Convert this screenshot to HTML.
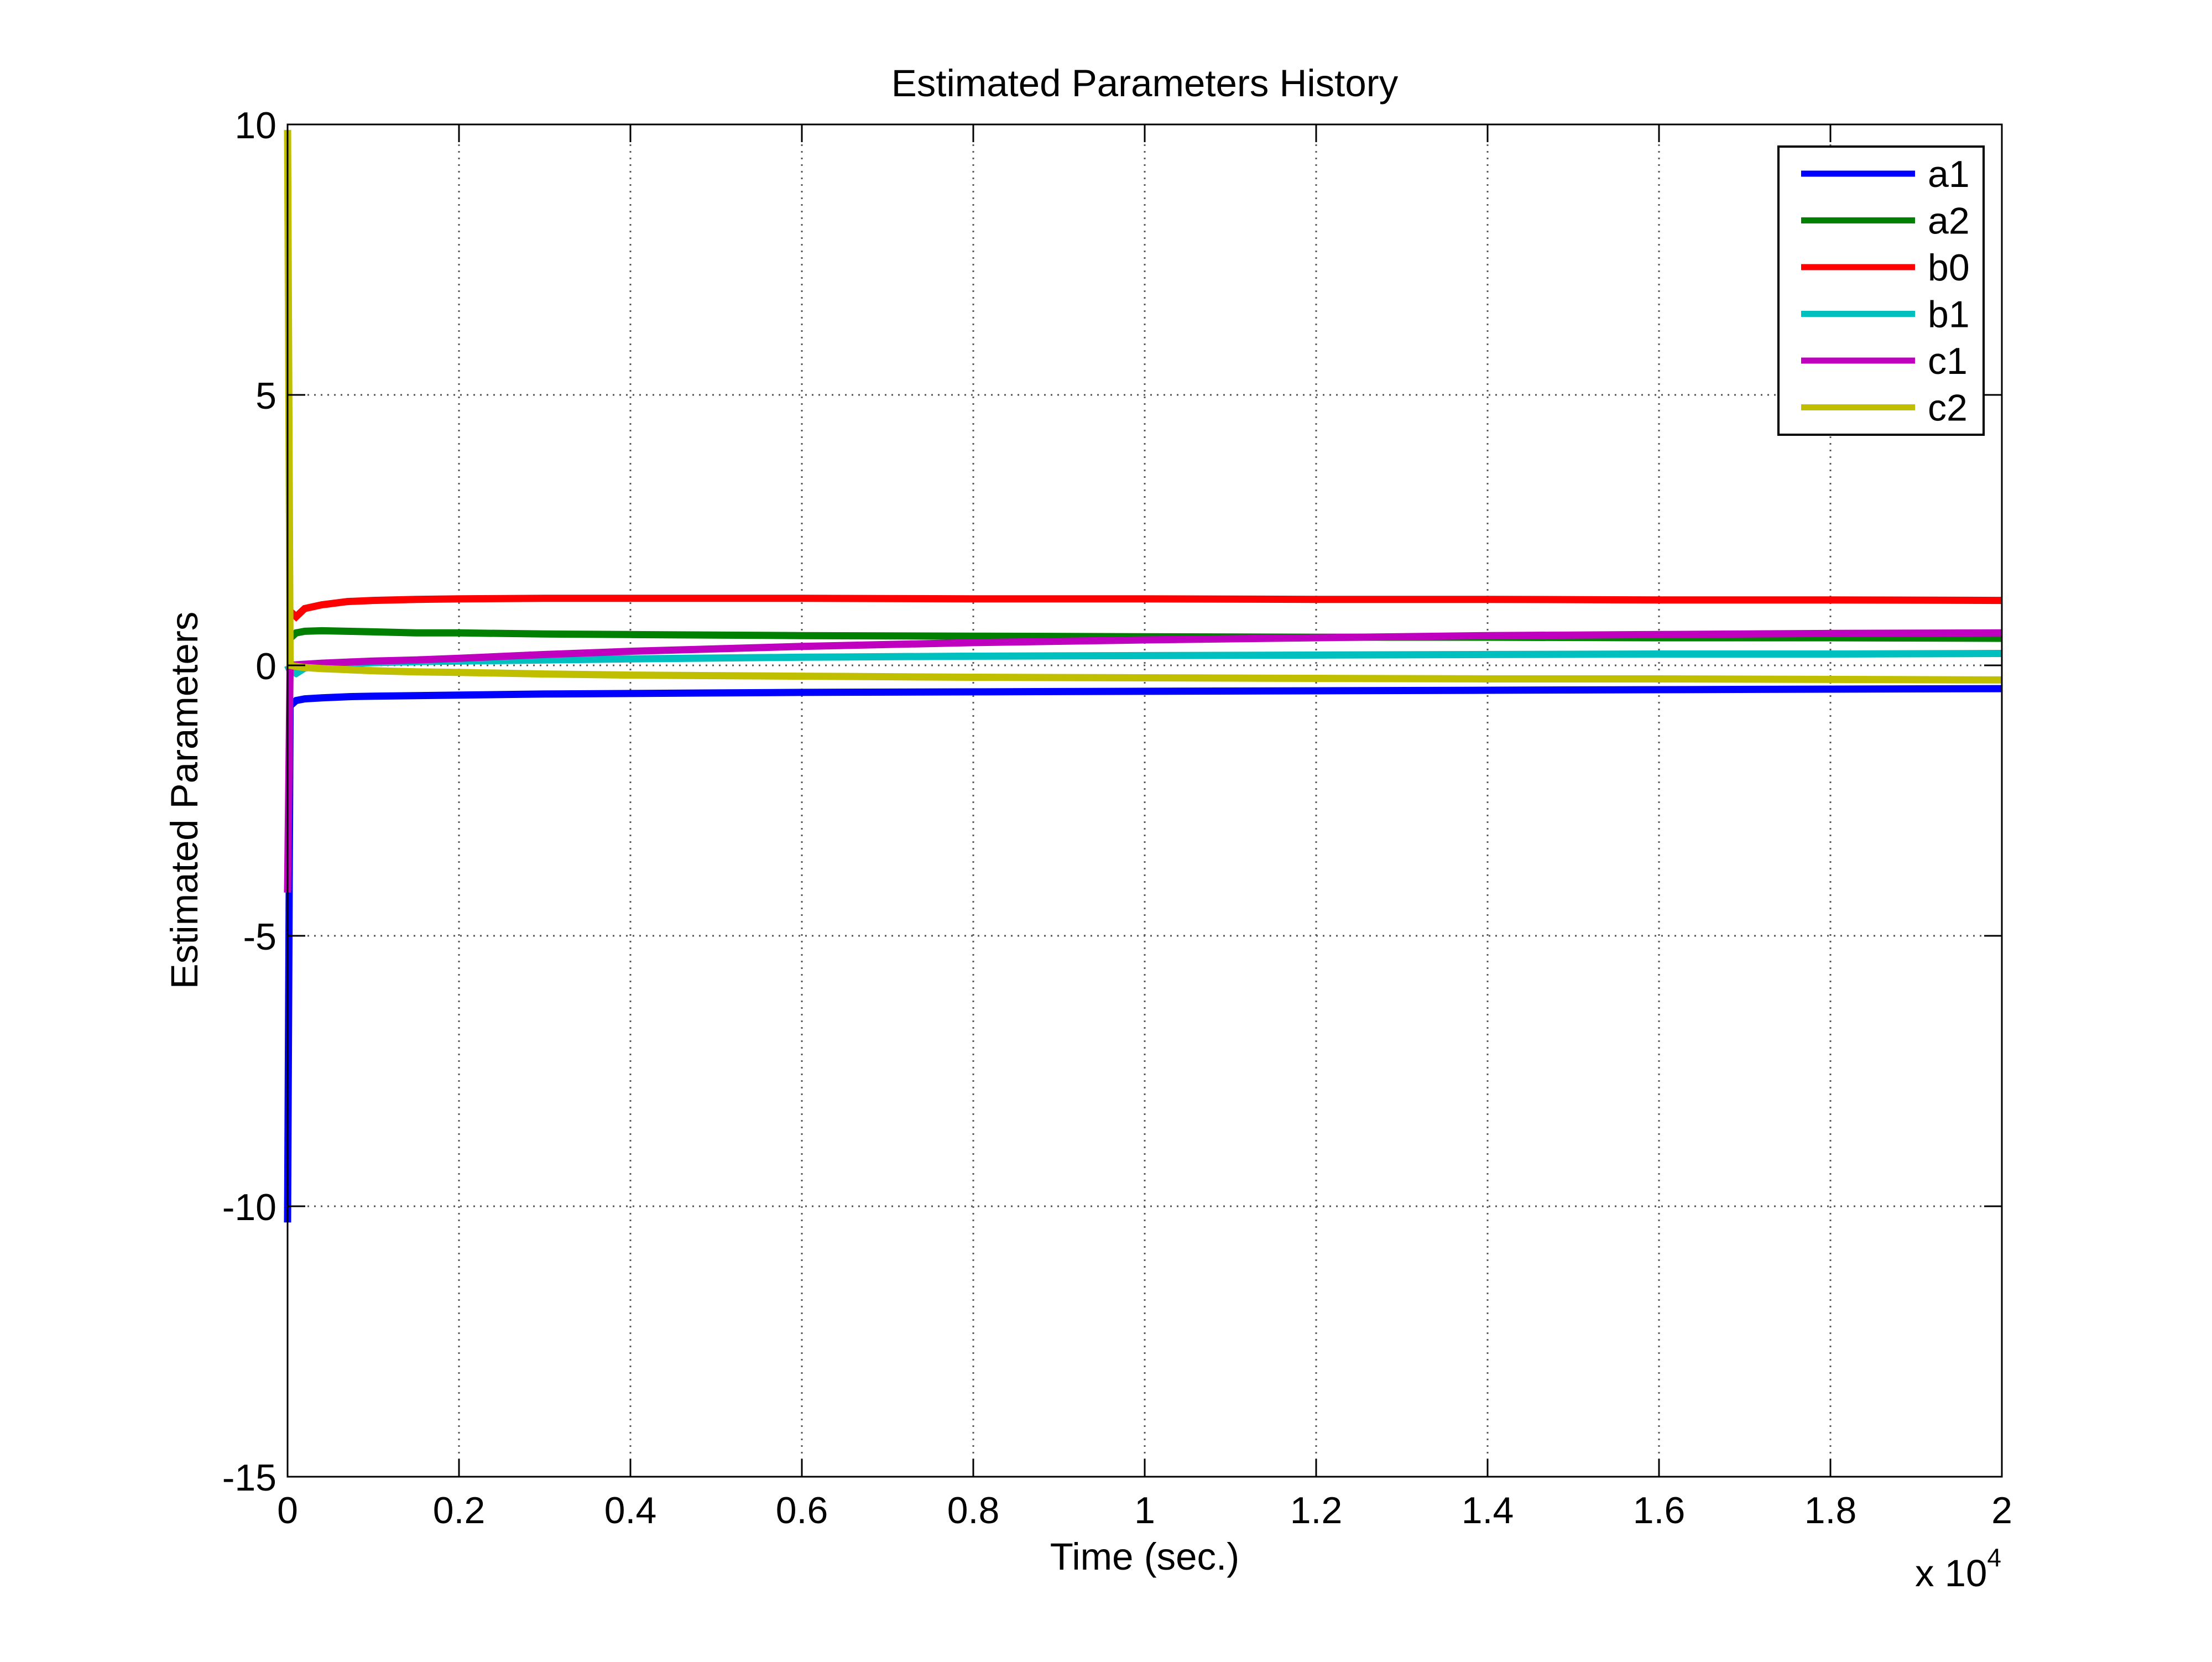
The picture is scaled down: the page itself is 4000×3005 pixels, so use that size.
<!DOCTYPE html>
<html><head><meta charset="utf-8"><style>
html,body{margin:0;padding:0;background:#fff;}
svg text{font-family:"Liberation Sans",Arial,sans-serif;fill:#000;}
</style></head><body>
<svg id="chart" width="4000" height="3000" viewBox="0 0 4000 3000" xmlns="http://www.w3.org/2000/svg">
<rect width="4000" height="3000" fill="#fff"/>
<g id="grid"></g>
<g id="series"></g>
<g id="axes"></g>
<text x="2070" y="174" font-size="69" text-anchor="middle">Estimated Parameters History</text>
<text x="2070" y="2838" font-size="69" text-anchor="middle">Time (sec.)</text>
<text x="3463" y="2868" font-size="69">x 10<tspan font-size="46" dy="-36">4</tspan></text>
<text transform="translate(357,1447) rotate(-90)" font-size="69" text-anchor="middle">Estimated Parameters</text>
<g id="legend"></g>
</svg>
<script>
const times=[0,30,100,200,400,700,1000,1500,2000,3000,4000,6000,8000,10000,12000,14000,16000,18000,20000];
const a1=[-10.3,-0.75,-0.65,-0.62,-0.6,-0.58,-0.57,-0.56,-0.55,-0.53,-0.52,-0.5,-0.49,-0.48,-0.47,-0.46,-0.45,-0.44,-0.43];
const a2=[0.5,0.5,0.6,0.63,0.64,0.63,0.62,0.6,0.6,0.58,0.57,0.55,0.54,0.53,0.52,0.52,0.51,0.51,0.5];
const b0=[1.0,1.0,0.9,1.05,1.12,1.18,1.2,1.22,1.23,1.24,1.24,1.24,1.23,1.23,1.22,1.22,1.21,1.21,1.2];
const b1=[0,-0.1,-0.15,-0.05,0,0.03,0.05,0.07,0.08,0.1,0.12,0.15,0.17,0.18,0.19,0.2,0.21,0.21,0.22];
const c1=[-4.2,0,0.01,0.02,0.04,0.06,0.08,0.1,0.13,0.2,0.26,0.35,0.42,0.47,0.51,0.55,0.57,0.59,0.6];
const c2=[9.9,0,-0.02,-0.04,-0.06,-0.08,-0.1,-0.12,-0.13,-0.16,-0.18,-0.2,-0.22,-0.23,-0.24,-0.25,-0.25,-0.26,-0.27];
const seriesNames=["a1","a2","b0","b1","c1","c2"];
const seriesColors=["#0000ff","#008000","#ff0000","#00bfbf","#bf00bf","#bfbf00"];
const xTicks=[0,2000,4000,6000,8000,10000,12000,14000,16000,18000,20000];
const xTickLabels=["0","0.2","0.4","0.6","0.8","1","1.2","1.4","1.6","1.8","2"];
const yTicks=[10,5,0,-5,-10,-15];
const yTickLabels=["10","5","0","-5","-10","-15"];

const L=520,R=3620,T=225,B=2670;
const xMin=0,xMax=20000,yMin=-15,yMax=10;
const sx=v=>L+(v-xMin)/(xMax-xMin)*(R-L);
const sy=v=>B-(v-yMin)/(yMax-yMin)*(B-T);
const NS="http://www.w3.org/2000/svg";
function mk(tag,attrs,parent){const e=document.createElementNS(NS,tag);for(const k in attrs)e.setAttribute(k,attrs[k]);parent.appendChild(e);return e;}
const grid=document.getElementById('grid'),axes=document.getElementById('axes'),ser=document.getElementById('series'),leg=document.getElementById('legend');

xTicks.forEach((t,i)=>{
  const x=sx(t);
  if(i>0&&i<xTicks.length-1){const g=mk('line',{x1:x,y1:T,x2:x,y2:B,stroke:'#555','stroke-width':3,'stroke-dasharray':'3 9'},grid);
  
  }
  const t1=mk('line',{x1:x,y1:B,x2:x,y2:B-32,stroke:'#000','stroke-width':3},axes);
  
  
  const t2=mk('line',{x1:x,y1:T,x2:x,y2:T+32,stroke:'#000','stroke-width':3},axes);
  
  
  const lb=mk('text',{x:x,y:2754,'font-size':68,'text-anchor':'middle'},axes);
  lb.textContent=xTickLabels[i];
  
  
});
yTicks.forEach((v,i)=>{
  const y=sy(v);
  if(v!==10&&v!==-15){const g=mk('line',{x1:L,y1:y,x2:R,y2:y,stroke:'#555','stroke-width':3,'stroke-dasharray':'3 9'},grid);
  
  }
  const t1=mk('line',{x1:L,y1:y,x2:L+32,y2:y,stroke:'#000','stroke-width':3},axes);
  
  
  const t2=mk('line',{x1:R,y1:y,x2:R-32,y2:y,stroke:'#000','stroke-width':3},axes);
  
  
  const lb=mk('text',{x:500,y:y+25,'font-size':68,'text-anchor':'end'},axes);
  lb.textContent=yTickLabels[i];
  
  
});
const box=mk('rect',{x:L,y:T,width:R-L,height:B-T,fill:'none',stroke:'#000','stroke-width':3},axes);



const data=[a1,a2,b0,b1,c1,c2];
data.forEach((vals,si)=>{
  const pts=vals.map((v,i)=>sx(times[i]).toFixed(1)+','+sy(v).toFixed(1)).join(' ');
  const p=mk('polyline',{points:pts,fill:'none',stroke:seriesColors[si],'stroke-width':13,'stroke-linejoin':'miter'},ser);
  
  
});

const lb=mk('rect',{x:3216,y:265,width:371,height:521,fill:'#fff',stroke:'#000','stroke-width':4},leg);


seriesNames.forEach((n,i)=>{
  const y=314+i*84.5;
  const ln=mk('line',{x1:3257,y1:y,x2:3463,y2:y,stroke:seriesColors[i],'stroke-width':11},leg);
  
  
  const tx=mk('text',{x:3486,y:y+24,'font-size':68},leg);
  tx.textContent=n;
  
  
});
</script>
</body></html>
